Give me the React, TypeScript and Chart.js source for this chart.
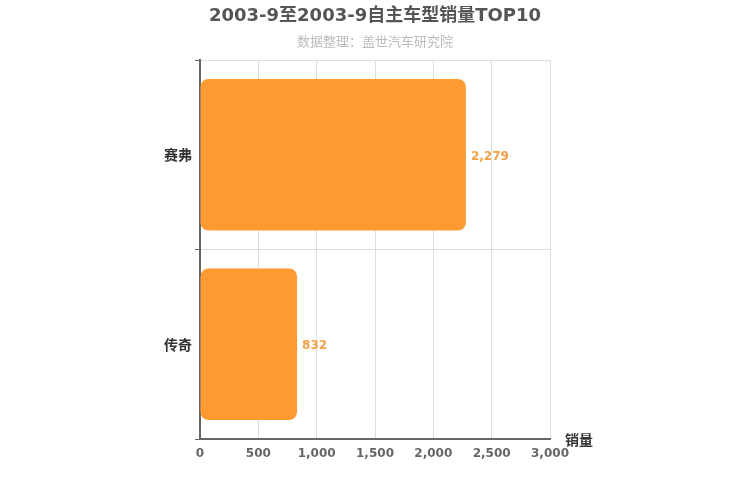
import React, { useEffect, useRef } from 'react';
import { Chart, registerables } from 'chart.js';

Chart.register(...registerables);

const categories = ['赛弗', '传奇'];
const sales = [2279, 832];
const axisMax = 3000;
const axisStep = 500;
const titleText = '2003-9至2003-9自主车型销量TOP10';
const subtitleText = '数据整理：盖世汽车研究院';
const axisName = '销量';

const FONT = '"DejaVu Sans", "Noto Sans CJK SC", sans-serif';
const CJK_FONT = '"Noto Sans CJK SC", "DejaVu Sans", sans-serif';

// titles, value labels and axis name drawn on the canvas
const overlayPlugin = {
  id: 'overlay',
  afterDatasetsDraw(chart: Chart) {
    const { ctx, chartArea } = chart;
    ctx.save();
    ctx.textAlign = 'center';
    ctx.textBaseline = 'middle';
    ctx.fillStyle = '#555555';
    ctx.font = `bold 18px ${FONT}`;
    ctx.fillText(titleText, 375, 16);
    ctx.fillStyle = '#bbbbbb';
    ctx.font = `13px ${CJK_FONT}`;
    ctx.fillText(subtitleText, 375, 41);

    ctx.textAlign = 'left';
    ctx.fillStyle = '#333333';
    ctx.font = `bold 14px ${FONT}`;
    ctx.fillText(axisName, chartArea.right + 15, chartArea.bottom + 2);

    const meta = chart.getDatasetMeta(0);
    ctx.fillStyle = '#f2a146';
    ctx.font = `bold 12px ${FONT}`;
    meta.data.forEach((bar: any, i: number) => {
      ctx.fillText(sales[i].toLocaleString('en-US'), bar.x + 5, bar.y + 2);
    });
    ctx.restore();
  },
};

const App: React.FC = () => {
  const chartRef = useRef<HTMLCanvasElement | null>(null);
  const chartInstanceRef = useRef<Chart | null>(null);

  useEffect(() => {
    if (!chartRef.current) return;
    const ctx = chartRef.current.getContext('2d');
    if (!ctx) return;

    if (chartInstanceRef.current) {
      chartInstanceRef.current.destroy();
    }

    chartInstanceRef.current = new Chart(ctx, {
      type: 'bar',
      data: {
        labels: categories,
        datasets: [
          {
            label: axisName,
            data: sales,
            backgroundColor: '#ff9a33',
            borderRadius: 8,
            borderSkipped: false,
            barPercentage: 1,
            categoryPercentage: 0.8,
          },
        ],
      },
      options: {
        indexAxis: 'y',
        responsive: false,
        animation: false,
        layout: { padding: { left: 0, right: 200, top: 60, bottom: 0 } },
        plugins: {
          legend: { display: false },
          tooltip: { enabled: false },
        },
        scales: {
          x: {
            min: 0,
            max: axisMax,
            ticks: {
              stepSize: axisStep,
              color: '#666666',
              font: { family: FONT, size: 12, weight: 'bold' },
              padding: 8,
            },
            grid: { color: '#dddddd', drawTicks: false },
            border: { color: '#666666', width: 2 },
            afterFit: (scale: any) => {
              scale.height = 61;
            },
          },
          y: {
            ticks: {
              color: '#333333',
              font: { family: FONT, size: 14, weight: 'bold' },
              padding: 3,
              labelOffset: 2,
            },
            grid: { color: '#dddddd', tickLength: 5, tickColor: '#666666' },
            border: { color: '#666666', width: 2 },
            afterFit: (scale: any) => {
              scale.width = 200;
            },
          },
        },
      },
      plugins: [overlayPlugin],
    });

    return () => {
      if (chartInstanceRef.current) {
        chartInstanceRef.current.destroy();
        chartInstanceRef.current = null;
      }
    };
  }, []);

  return (
    <div style={{ position: 'fixed', left: 0, top: 0, width: 750, height: 500, background: '#ffffff' }}>
      <canvas ref={chartRef} width={750} height={500}></canvas>
    </div>
  );
};

export default App;
